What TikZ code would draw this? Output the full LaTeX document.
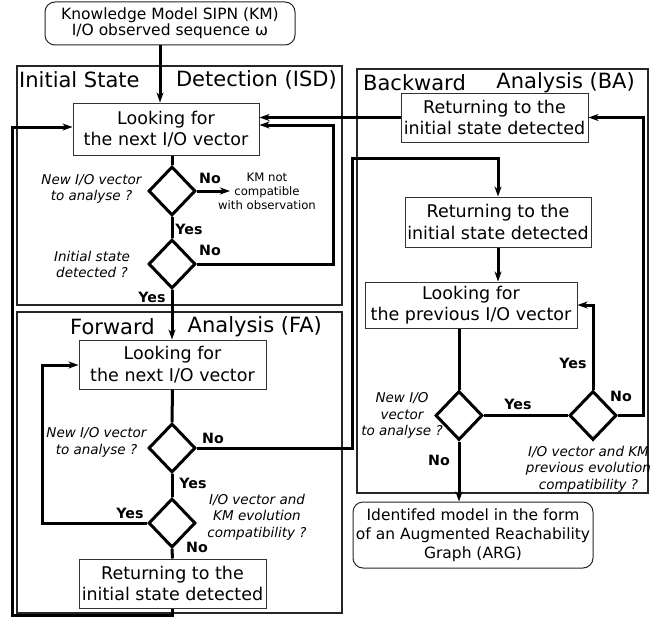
\documentclass[tikz,border=0pt]{standalone}
\usepackage{fontspec}
\setmainfont{DejaVu Sans}
\usetikzlibrary{shapes.geometric,arrows.meta,calc}
\begin{document}
\begin{tikzpicture}[x=1pt,y=-1pt,
  frame/.style={draw=black!85,line width=1.2pt},
  title/.style={inner sep=0pt,font=\fontsize{21}{25}\selectfont},
  procbox/.style={draw=black!80,line width=1pt,fill=white,align=center,inner sep=0pt,
    font=\fontsize{17.5}{21.5}\selectfont},
  termbox/.style={draw=black!85,line width=1pt,fill=white,align=center,inner sep=0pt,
    rounded corners=10pt},
  decision/.style={diamond,draw,line width=3pt,minimum width=47pt,minimum height=49pt,inner sep=0pt},
  answer/.style={inner sep=0pt,font=\fontsize{14.2}{16}\selectfont\bfseries},
  question/.style={inner sep=0pt,align=center,font=\fontsize{13.5}{16.5}\selectfont\itshape},
  note/.style={inner sep=0pt,align=center,font=\fontsize{11.7}{14}\selectfont},
  flow/.style={line width=3pt},
  arr/.style={flow,-{Stealth[length=10pt,width=7pt,inset=3pt]}}]
\useasboundingbox (0,0) rectangle (650,618);

% phase frames
\draw[frame] (17,66) rectangle (342,305);
\draw[frame] (17,312) rectangle (342,613);
\draw[frame] (357,69) rectangle (648,493);

% phase titles
\node[title,anchor=west] (isdA) at (19,80) {Initial State};
\node[title,anchor=east] (isdB) at (337,80) {Detection (ISD)};
\node[title,anchor=west] (faA) at (70,327) {Forward};
\node[title,anchor=east] (faB) at (322,327) {Analysis (FA)};
\node[title,anchor=west] (baA) at (363,83) {Backward};
\node[title,anchor=east] (baB) at (635,83) {Analysis (BA)};

% terminal boxes
\node[termbox,minimum width=250pt,minimum height=43pt,font=\fontsize{15.5}{16}\selectfont]
  (km) at (170,23.5) {Knowledge Model SIPN (KM)\\I/O observed sequence ω};
\node[termbox,minimum width=240pt,minimum height=66pt,font=\fontsize{15.5}{19}\selectfont]
  (arg) at (473,535) {Identifed model in the form\\of an Augmented Reachability\\Graph (ARG)};

% initial state detection
\node[procbox,minimum width=186pt,minimum height=52pt] (isd1) at (166,129) {Looking for\\the next I/O vector};
\node[decision] (isdd1) at (172,191) {};
\node[decision] (isdd2) at (172,264) {};
\node[question] (isdq1) at (91.5,189) {New I/O vector\\to analyse ?};
\node[question] (isdq2) at (92,264.5) {Initial state\\detected ?};
\node[note] (kmnc) at (267,191) {KM not\\compatible\\with observation};
\node[answer] (isdno1) at (210,178) {No};
\node[answer] (isdyes1) at (189,229) {Yes};
\node[answer] (isdno2) at (210,250) {No};
\node[answer] (isdyes2) at (152,297) {Yes};
\coordinate (kmtip) at (230,191);
\coordinate (isdloop) at (333,125);

% forward analysis
\node[procbox,minimum width=187pt,minimum height=49pt] (fa1) at (172.5,364.5) {Looking for\\the next I/O vector};
\node[decision] (fad1) at (172,448) {};
\node[decision] (fad2) at (172,523) {};
\node[procbox,minimum width=187pt,minimum height=49pt] (fa3) at (172.5,583.5) {Returning to the\\initial state detected};
\node[question] (faq1) at (96.5,442.5) {New I/O vector\\to analyse ?};
\node[question] (faq2) at (257,517) {I/O vector and\\KM evolution\\compatibility ?};
\node[answer] (fano1) at (213,438) {No};
\node[answer] (fayes1) at (193,483) {Yes};
\node[answer] (fayes2) at (130,513) {Yes};
\node[answer] (fano2) at (197,547) {No};
\coordinate (faloop) at (42,365);
\coordinate (fanoA) at (352,158);
\coordinate (outerA) at (12,615);
\coordinate (outerB) at (12,127);

% backward analysis
\node[procbox,minimum width=187pt,minimum height=49pt] (ba1) at (494.5,117.5) {Returning to the\\initial state detected};
\node[procbox,minimum width=186pt,minimum height=50pt] (ba2) at (498,222) {Returning to the\\initial state detected};
\node[procbox,minimum width=212pt,minimum height=46pt] (ba3) at (471,305) {Looking for\\the previous I/O vector};
\node[decision] (bad1) at (459,415.5) {};
\node[decision] (bad2) at (593,415.5) {};
\node[question] (baq1) at (402,415.5) {New I/O\\vector\\to analyse ?};
\node[question] (baq2) at (588.5,469) {I/O vector and KM\\previous evolution\\compatibility ?};
\node[answer] (bayes1) at (518,404) {Yes};
\node[answer] (bayes2) at (573,363) {Yes};
\node[answer] (bano1) at (621,396) {No};
\node[answer] (bano2) at (439,460) {No};
\coordinate (baloop) at (643,117.5);

% connectors: initial state detection
\draw[arr] ([xshift=-10pt]km.south) -- ([xshift=-10pt]km.south |- isd1.north);
\draw[flow] (isdd1.north |- isd1.south) -- (isdd1.north);
\draw[flow] (isdd1.south) -- (isdd2.north);
\draw[arr] (isdd1.east) -- (kmtip);
\draw[arr] (isdd2.east) -| (isdloop) -- (isdloop -| isd1.east);
\draw[arr] (isdd2.south) -- (isdd2.south |- fa1.north);
\draw[arr] (ba1.west) -- (ba1.west -| isd1.east);

% connectors: forward analysis
\draw[flow] (fa1.south) -- (fad1.north);
\draw[flow] (fad1.south) -- (fad2.north);
\draw[arr] (fad1.east) -| (fanoA) -| (ba2.north);
\draw[arr] (fad2.west) -| (faloop) -- (faloop -| fa1.west);
\draw[flow] (fad2.south) -- (fa3.north);
\draw[arr] (fa3.south) |- (outerA) -- (outerB) -- (outerB -| isd1.west);

% connectors: backward analysis
\draw[arr] (ba2.south) -- (ba3.north -| ba2.south);
\draw[flow] (bad1.north |- ba3.south) -- (bad1.north);
\draw[flow] (bad1.east) -- (bad2.west);
\draw[arr] (bad2.north) |- (ba3.east);
\draw[arr] (bad2.east) -| (baloop) -- (ba1.east);
\draw[arr] (bad1.south) -- (bad1.south |- arg.north);
\end{tikzpicture}
\end{document}
